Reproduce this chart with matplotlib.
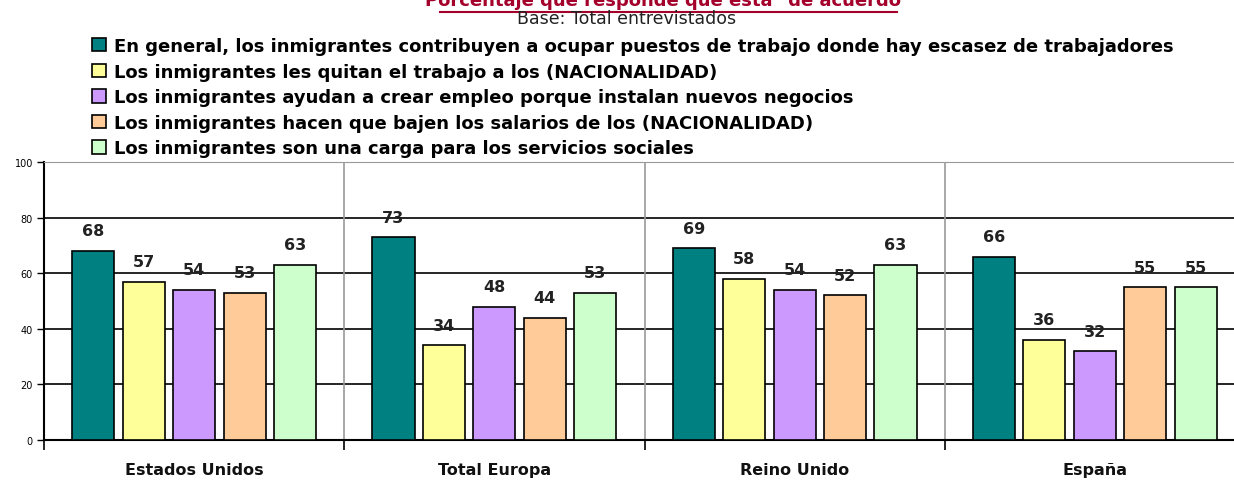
import matplotlib
matplotlib.use("Agg")
import matplotlib.pyplot as plt
import numpy as np
from matplotlib.patches import Patch
from matplotlib.lines import Line2D

categories = ["Estados Unidos", "Total Europa", "Reino Unido", "España"]
series_names = [
    "En general, los inmigrantes contribuyen a ocupar puestos de trabajo donde hay escasez de trabajadores",
    "Los inmigrantes les quitan el trabajo a los (NACIONALIDAD)",
    "Los inmigrantes ayudan a crear empleo porque instalan nuevos negocios",
    "Los inmigrantes hacen que bajen los salarios de los (NACIONALIDAD)",
    "Los inmigrantes son una carga para los servicios sociales",
]
ocupar_puestos = [68, 73, 69, 66]
quitan_trabajo = [57, 34, 58, 36]
crear_empleo = [54, 48, 54, 32]
bajan_salarios = [53, 44, 52, 55]
carga_servicios = [63, 53, 63, 55]
series = [ocupar_puestos, quitan_trabajo, crear_empleo, bajan_salarios, carga_servicios]
colors = ["#008080", "#FFFF99", "#CC99FF", "#FFCC99", "#CCFFCC"]

plt.rcParams['font.family'] = ['DejaVu Sans']

fig = plt.figure(figsize=(12.34, 4.81), dpi=100)
ax = fig.add_axes([44 / 1234, 40 / 481, 1201 / 1234, 278 / 481])

x = np.arange(len(categories))
step = 0.168
width = 0.14
for i, (vals, c) in enumerate(zip(series, colors)):
    pos = x + (i - 2) * step
    ax.bar(pos, vals, width, color=c, edgecolor="black", linewidth=1.2, zorder=3)
    for p, v in zip(pos, vals):
        ax.text(p, v + 4.5, str(v), ha="center", va="bottom",
                fontsize=11.5, fontweight="bold", color="#222222", zorder=4)

ax.set_xlim(-0.5, len(categories) - 0.5)
ax.set_ylim(0, 100)
ax.set_yticks([0, 20, 40, 60, 80, 100])
ax.tick_params(axis="y", labelsize=7, length=5, width=1, pad=3)
ax.yaxis.grid(True, color="black", linewidth=1.2, zorder=1)
ax.set_axisbelow(True)

for b in np.arange(0.5, len(categories) - 0.5, 1):
    ax.axvline(b, color="#999999", linewidth=1.2, zorder=1)

ax.set_xticks(np.arange(-0.5, len(categories) + 0.5, 1))
ax.set_xticklabels([])
ax.tick_params(axis="x", length=7, width=1.2)
for i, cat in enumerate(categories):
    ax.text(i, -0.105, cat, transform=ax.get_xaxis_transform(), ha="center",
            va="center", fontsize=11.5, fontweight="bold", color="#111111")

ax.spines["left"].set_linewidth(1.5)
ax.spines["bottom"].set_linewidth(1.5)
ax.spines["top"].set_color("#999999")
ax.spines["right"].set_visible(False)

# title, mostly cropped off at the top (as in the source)
fig.text(668 / 1234, 1 - 10 / 481, 'Porcentaje que responde que está "de acuerdo"',
         ha="center", va="bottom", fontsize=13, fontweight="bold", color="#A3002B")
fig.add_artist(Line2D([440 / 1234, 897 / 1234], [1 - 13 / 481, 1 - 13 / 481],
                      transform=fig.transFigure, color="#A3002B", linewidth=1.5))
fig.text(627 / 1234, 1 - 19 / 481, "Base: Total entrevistados",
         ha="center", va="center", fontsize=12.5, color="#222222")

handles = [Patch(facecolor=c, edgecolor="black", linewidth=1.2) for c in colors]
fig.legend(handles, series_names, loc="upper left", bbox_to_anchor=(83 / 1234, 1 - 29 / 481),
           frameon=False, prop={"size": 13, "weight": "bold"}, handlelength=0.75,
           handleheight=0.75, handletextpad=0.45, labelspacing=0.42, borderpad=0)

fig.savefig("out.png", dpi=100)
